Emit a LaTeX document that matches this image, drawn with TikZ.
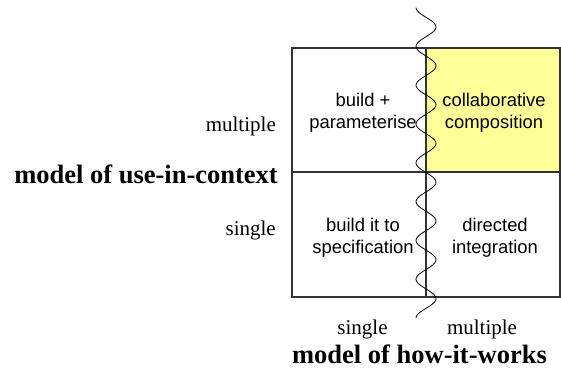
\documentclass[tikz,border=0pt]{standalone}
\usepackage{fontspec}
\setmainfont{Liberation Serif}
\newfontfamily\zellfont{Liberation Sans}
\definecolor{hellgelb}{HTML}{FFFF99}
\begin{document}
\begin{tikzpicture}[x=1pt, y=-1pt,
    zelle/.style={align=center, inner sep=0, font=\zellfont\fontsize{18.4}{22.5}\selectfont},
    achse/.style={inner sep=0, font=\fontsize{21}{25}\selectfont},
    titel/.style={inner sep=0, font=\bfseries\fontsize{26.5}{30}\selectfont}]
            \useasboundingbox (0,0) rectangle (561,376);
            \fill [hellgelb] (426,48) rectangle (560,172);           %gelbes Feld
            \draw [black!80, line width=1.3pt] (292,48) rectangle (560,297);  %Rahmen
            \draw [black!80, line width=1.3pt] (292,172) -- (560,172);  %waagerecht
            \draw [black!80, line width=1.3pt] (426,48) -- (426,297);   %senkrecht
            \draw [line width=0.8pt, domain=7.6:318, samples=200] plot ({426-10*cos(9.2784*(\x-7.6))}, \x);  %Welle
            \node [zelle, anchor=base] (bauen) at (363,128.5) {build +\\parameterise};
            \node [zelle, anchor=base] (kollab) at (494,128.5) {collaborative\\composition};
            \node [zelle, anchor=base] (spez) at (363,253.5) {build it to\\specification};
            \node [zelle, anchor=base] (integ) at (495,253.5) {directed\\integration};
            \node [achse, anchor=base east] (yMehr) at (276,131.7) {multiple};
            \node [titel, anchor=base east] (yTitel) at (278,183.3) {model of use-in-context};
            \node [achse, anchor=base east] (yEin) at (276,235) {single};
            \node [achse, anchor=base] (xEin) at (362.5,334) {single};
            \node [achse, anchor=base] (xMehr) at (482,334) {multiple};
            \node [titel, anchor=base] (xTitel) at (419.5,363) {model of how-it-works};
        \end{tikzpicture}
\end{document}
